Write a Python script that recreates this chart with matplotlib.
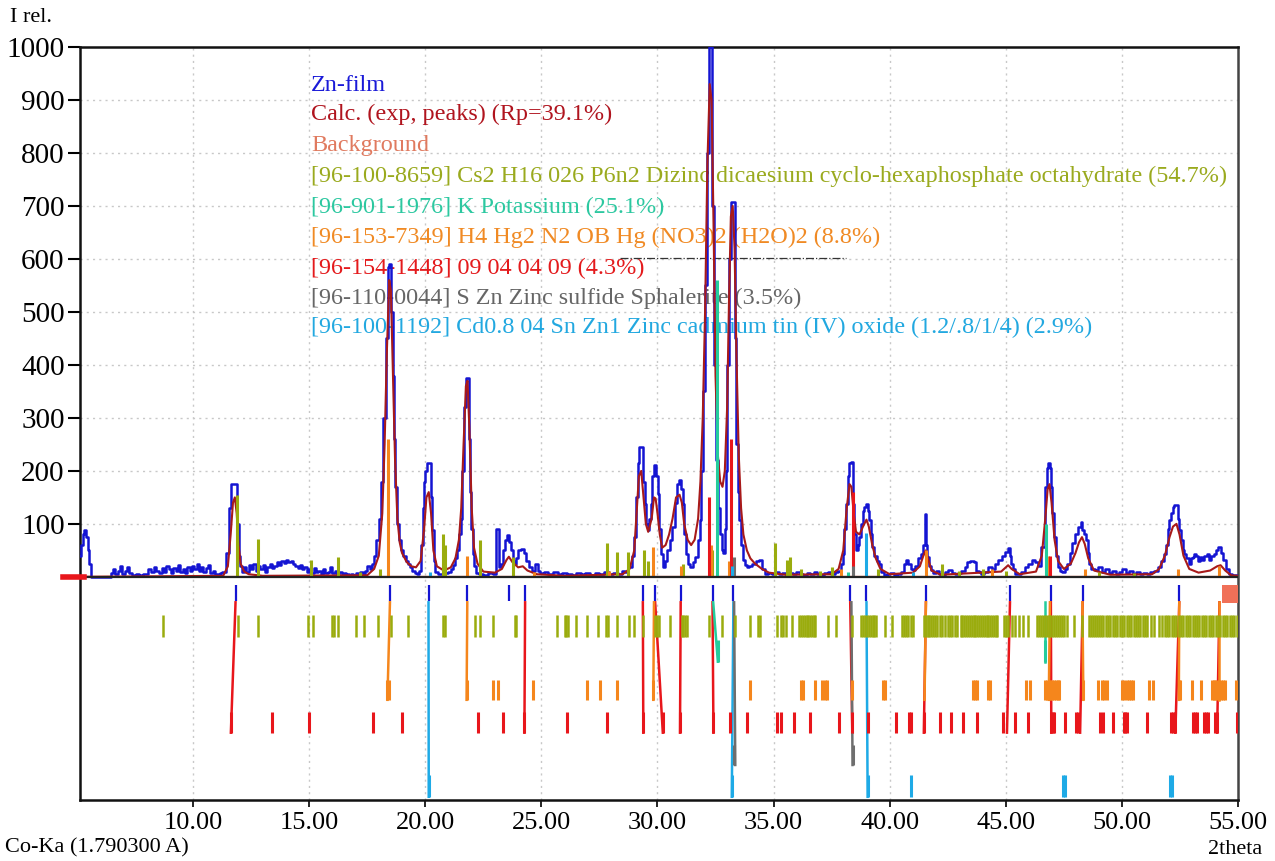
import matplotlib
matplotlib.use("Agg")
import matplotlib.pyplot as plt

plt.rcParams['font.family'] = ['Liberation Serif', 'DejaVu Serif']

# ---------------- data ----------------
# experimental profile (2theta, I rel.)
obs_x = [5.13, 5.21, 5.28, 5.36, 5.45, 5.5, 5.56, 5.61, 6.45,
         6.5, 6.6, 6.7, 6.8, 6.9, 7.0, 7.1, 7.2, 7.3, 7.45, 7.6, 7.75, 7.9, 8.0, 8.15, 8.25, 8.35, 8.5, 8.6, 8.7, 8.8, 8.9,
         9.0, 9.1, 9.2, 9.3, 9.4, 9.5, 9.6, 9.7, 9.8, 9.9, 10.0, 10.1, 10.2, 10.3, 10.4, 10.5, 10.6, 10.7, 10.8, 10.9,
         11.0, 11.1, 11.2, 11.3, 11.36, 11.5, 11.61, 11.69, 11.86, 11.93, 12.0, 12.08, 12.15,
         12.25, 12.35, 12.45, 12.55, 12.65, 12.75, 12.85, 12.95, 13.05, 13.15, 13.25, 13.35, 13.45, 13.55, 13.65, 13.75,
         13.85, 13.95, 14.05, 14.15, 14.25, 14.35, 14.45, 14.55, 14.65, 14.75, 14.85, 14.95, 15.05, 15.15, 15.25, 15.35,
         15.45, 15.55, 15.65, 15.75, 15.85, 15.95, 16.05, 16.15, 16.25, 16.35, 16.45, 16.55, 16.65, 16.75, 16.85, 16.95,
         17.05, 17.15, 17.25, 17.35, 17.45, 17.55, 17.65,
         17.75, 17.85, 17.95, 18.05, 18.15, 18.25, 18.33, 18.42, 18.5, 18.56, 18.62, 18.68, 18.74, 18.82, 18.9, 19.0,
         19.1, 19.2, 19.3, 19.4, 19.5, 19.6, 19.68, 19.75, 19.85,
         19.92, 19.97, 20.05, 20.11, 20.22, 20.28, 20.33, 20.4, 20.47, 20.6, 20.75, 20.9, 21.05, 21.15, 21.25, 21.35,
         21.41, 21.5, 21.55, 21.62, 21.7, 21.77, 21.84, 21.9, 21.95, 22.0, 22.07, 22.15, 22.22, 22.4, 22.6, 22.8, 23.0,
         23.08, 23.14, 23.2, 23.3, 23.4, 23.5, 23.58, 23.65, 23.72, 23.8, 23.87, 23.95, 24.05, 24.2, 24.3, 24.4, 24.51,
         24.65, 24.8, 24.9, 25.0, 25.2, 25.4, 25.6, 25.8, 26.0, 26.2, 26.4, 26.6, 26.8, 27.0, 27.2, 27.4, 27.6, 27.8,
         28.0, 28.2, 28.4, 28.55, 28.68,
         28.82, 28.95, 29.04, 29.12, 29.18, 29.25, 29.36, 29.42, 29.47, 29.55, 29.61, 29.68, 29.75, 29.82, 29.9, 29.97,
         30.04, 30.11, 30.18, 30.26, 30.35, 30.47, 30.58, 30.69, 30.8, 30.9, 30.97, 31.04, 31.12, 31.2, 31.26, 31.35,
         31.48, 31.58, 31.69, 31.78, 31.84, 31.92, 32.0, 32.08, 32.16, 32.24, 32.32, 32.4, 32.48, 32.56, 32.64, 32.72,
         32.8, 32.86, 32.92, 32.98, 33.05, 33.12, 33.2, 33.3, 33.36, 33.43, 33.5, 33.56, 33.63, 33.7, 33.8, 33.9, 34.0,
         34.15, 34.3, 34.45, 34.55, 34.71,
         34.85, 35.0, 35.15, 35.3, 35.45, 35.6, 35.75, 35.9, 36.05, 36.2, 36.35, 36.5, 36.65, 36.8, 36.95, 37.1, 37.25,
         37.4, 37.55, 37.7, 37.86,
         37.95, 38.01, 38.08, 38.15, 38.22, 38.3, 38.37, 38.44, 38.51, 38.58, 38.65, 38.73, 38.8, 38.87, 38.94, 39.01,
         39.08, 39.15, 39.22, 39.29, 39.4, 39.5, 39.58, 39.7, 39.8, 39.95, 40.1, 40.25, 40.4, 40.55, 40.65, 40.73,
         40.85, 40.95, 41.02, 41.15, 41.28, 41.38, 41.5, 41.55, 41.58, 41.66, 41.75, 41.81, 41.95, 42.05, 42.17, 42.3,
         42.45, 42.6, 42.75, 42.88, 43.0, 43.15, 43.3, 43.39, 43.55, 43.67, 43.8, 43.89, 44.0, 44.15, 44.32, 44.45,
         44.6, 44.75, 44.9, 45.04, 45.12, 45.2, 45.25, 45.35, 45.47, 45.6, 45.75, 45.9, 46.05, 46.18, 46.3, 46.45,
         46.62, 46.73, 46.8, 46.86, 46.92, 46.97, 47.05, 47.12, 47.2, 47.26, 47.38, 47.48, 47.58, 47.69, 47.8, 47.91,
         48.05, 48.19, 48.26, 48.34, 48.41, 48.48, 48.56, 48.63, 48.75, 48.91, 49.05, 49.2, 49.35, 49.5, 49.65, 49.8,
         49.95, 50.1, 50.25, 50.4, 50.55, 50.7, 50.85, 51.0, 51.15, 51.3, 51.5, 51.64, 51.75, 51.85, 51.93, 52.0,
         52.07, 52.14, 52.22, 52.3, 52.36, 52.45, 52.5, 52.57, 52.65, 52.72, 52.82, 52.93, 53.0, 53.08, 53.15, 53.22,
         53.3, 53.4, 53.5, 53.6, 53.7, 53.8, 53.9, 54.0, 54.1, 54.2, 54.3, 54.44, 54.55, 54.65, 54.8, 54.94, 55.0]
obs_y = [40, 60, 80, 89, 75, 50, 25, 0, 0,
         8, 14, 6, 12, 20, 5, 12, 18, 8, 4, 5, 3, 6, 5, 14, 10, 18, 12, 8, 16, 10, 20,
         14, 8, 16, 12, 22, 10, 15, 8, 18, 12, 20, 14, 25, 12, 18, 10, 16, 22, 8, 12,
         6, 5, 8, 10, 10, 45, 130, 175, 175, 100, 40, 20, 10,
         18, 10, 22, 15, 25, 12, 20, 14, 22, 10, 18, 24, 16, 20, 28, 22,
         30, 26, 32, 28, 30, 24, 20, 16, 22, 14, 18, 10, 14, 8, 16, 10,
         12, 6, 14, 8, 10, 18, 8, 12, 6, 10, 4, 8, 5, 3, 6, 4,
         8, 5, 10, 6, 12, 20, 15,
         25, 40, 70, 110, 180, 300, 450, 585, 590, 500, 380, 260, 170, 100, 70, 50,
         40, 30, 25, 18, 12, 8, 6, 12, 60,
         130, 180, 200, 214, 214, 150, 88, 30, 9, 6, 5, 8, 10, 15, 22, 35,
         50, 80, 110, 200, 320, 375, 375, 260, 160, 90, 44, 20, 8, 6, 4, 8, 6,
         91, 91, 18, 25, 50, 70, 79, 65, 50, 30, 25, 35, 50, 52, 45, 30, 19,
         12, 25, 12, 8, 10, 6, 10, 5, 8, 6, 4, 8, 5, 7, 4, 8, 5, 10,
         6, 8, 5, 12, 10,
         19, 40, 75, 150, 214, 245, 245, 180, 138, 100, 88, 110, 138, 190, 211, 190,
         157, 90, 44, 19, 30, 50, 70, 94, 140, 176, 182, 165, 138, 80, 44, 25,
         19, 28, 38, 70, 107, 200, 350, 550, 800, 1000, 1000, 700, 400, 220, 130, 80,
         50, 45, 90, 200, 400, 600, 708, 708, 450, 250, 160, 107, 60, 31, 22, 19, 20,
         25, 30, 31, 15, 6,
         8, 5, 10, 6, 8, 4, 7, 5, 9, 6, 4, 8, 5, 9, 6, 4, 7,
         10, 6, 9, 12,
         25, 44, 90, 138, 190, 214, 217, 138, 80, 50, 60, 75, 100, 125, 132, 138,
         125, 107, 80, 57, 40, 30, 25, 10, 3, 5, 8, 4, 6, 10, 25, 31,
         25, 15, 13, 20, 35, 44, 60, 119, 60, 38, 20, 13, 8, 12, 6, 4,
         10, 13, 8, 6, 8, 12, 18, 28, 30, 28, 12, 9, 6, 10, 19, 15,
         25, 31, 40, 47, 55, 40, 25, 15, 6, 5, 10, 19, 25, 31, 28, 20,
         57, 170, 205, 214, 205, 170, 120, 75, 40, 19, 12, 9, 15, 25, 45, 63,
         80, 94, 104, 88, 80, 69, 45, 25, 15, 13, 18, 10, 14, 8, 12, 6,
         10, 15, 8, 12, 6, 9, 5, 8, 6, 10, 12, 19, 30, 44, 60, 90,
         107, 120, 132, 136, 135, 110, 88, 70, 50, 44, 35, 25, 35, 38, 44, 40,
         30, 38, 31, 40, 44, 31, 40, 44, 50, 57, 45, 31, 15, 6, 4, 3, 3]

# calculated profile
calc_x = [5.13, 11.3, 11.5, 11.62, 11.72, 11.8, 11.88, 11.96, 12.05, 12.2, 12.4, 13.0, 17.5, 17.8, 18.0, 18.15,
          18.25, 18.35, 18.45, 18.52, 18.6, 18.7, 18.8, 18.9, 19.0, 19.2, 19.4, 19.6, 19.8, 19.95, 20.05, 20.15,
          20.25, 20.35, 20.5, 20.8, 21.1, 21.3, 21.45, 21.55, 21.65, 21.75, 21.82, 21.9, 22.0, 22.1, 22.25, 22.5,
          23.0, 23.3, 23.5, 23.6, 23.75, 24.0, 24.2, 24.4, 24.8, 26.0, 28.5, 28.8, 29.0, 29.1, 29.2, 29.3, 29.4,
          29.5, 29.6, 29.75, 29.85, 29.92, 30.0, 30.1, 30.2, 30.35, 30.5, 30.65, 30.8, 30.95, 31.05, 31.15, 31.3,
          31.45, 31.6, 31.75, 31.85, 31.95, 32.05, 32.15, 32.25, 32.33, 32.42, 32.5, 32.6, 32.7, 32.8, 32.9, 33.0,
          33.08, 33.16, 33.24, 33.32, 33.4, 33.5, 33.6, 33.7, 33.85, 34.0, 34.2, 34.5, 34.8, 35.5, 37.5, 37.8, 38.0,
          38.15, 38.27, 38.35, 38.45, 38.55, 38.7, 38.85, 39.0, 39.1, 39.25, 39.4, 39.6, 40.0, 41.0, 41.3, 41.45,
          41.55, 41.65, 41.8, 42.2, 44.8, 45.1, 45.25, 45.6, 46.3, 46.55, 46.7, 46.8, 46.88, 46.97, 47.1, 47.25,
          47.5, 47.8, 48.0, 48.15, 48.28, 48.4, 48.55, 48.8, 49.5, 51.3, 51.6, 51.85, 52.05, 52.2, 52.35, 52.48,
          52.65, 52.9, 53.3, 53.8, 54.1, 54.25, 54.45, 54.7, 55.0]
calc_y = [0, 2, 20, 80, 140, 150, 120, 60, 25, 10, 5, 2, 3, 15, 40, 120,
          250, 430, 560, 540, 400, 220, 110, 65, 45, 28, 20, 18, 30, 90, 150, 160,
          120, 50, 20, 12, 18, 35, 70, 130, 250, 360, 370, 280, 130, 55, 25, 10,
          8, 15, 32, 38, 28, 18, 20, 12, 5, 2, 5, 15, 50, 120, 190, 200, 150,
          100, 85, 110, 150, 148, 120, 80, 55, 60, 80, 110, 150, 155, 140, 100, 70,
          60, 70, 110, 180, 300, 500, 780, 930, 900, 650, 380, 230, 180, 170, 200, 320,
          520, 680, 700, 620, 420, 230, 130, 80, 50, 35, 25, 15, 8, 4, 5, 15, 50,
          130, 175, 170, 120, 85, 80, 95, 108, 95, 60, 35, 15, 5, 8, 20, 40,
          50, 35, 12, 4, 10, 22, 15, 5, 10, 40, 110, 165, 175, 140, 70, 30,
          15, 25, 45, 65, 75, 62, 35, 12, 4, 5, 15, 40, 75, 95, 100, 80,
          40, 15, 8, 12, 20, 22, 12, 3, 2]

# background
bg_x = [5.13, 20.0, 35.0, 55.0]
bg_y = [2, 2, 2, 2]

# phase sticks in the upper panel (position, intensity)
olive_sx = [11.9, 12.8, 15.1, 16.25, 17.2, 18.05, 20.76, 20.85, 22.36, 23.8, 27.82, 28.25, 28.75, 29.4, 29.6,
            31.12, 32.34, 35.06, 35.57, 35.7, 36.2, 37.0, 37.5, 39.5, 42.24, 43.0, 44.0, 45.0, 49.0, 50.5]
olive_sy = [155, 72, 31, 38, 10, 15, 80, 60, 69, 38, 63, 47, 47, 50, 30,
            25, 50, 63, 31, 38, 15, 12, 18, 15, 25, 12, 15, 12, 10, 8]
orange_sx = [18.4, 21.8, 24.7, 27.9, 29.8, 31.0, 32.3, 33.1, 37.9, 41.55, 44.4, 46.8, 48.4, 52.4, 54.2]
orange_sy = [260, 40, 10, 12, 57, 20, 60, 30, 15, 50, 15, 40, 15, 15, 20]
teal_sx = [32.55, 46.75, 38.2]
teal_sy = [560, 100, 10]
red_sx = [33.15, 32.2, 38.4, 46.9]
red_sy = [260, 150, 160, 40]
gray_sx = [33.3, 38.4]
gray_sy = [38, 20]
cyan_sx = [39.0, 33.2, 20.2, 41.0]
cyan_sy = [82, 20, 10, 10]

# peak markers (observed peaks)
peak_marks = [11.83, 18.5, 20.14, 21.81, 23.62, 24.3, 29.37, 29.9, 31.0, 32.37, 33.27, 38.3, 39.0,
              41.56, 45.18, 46.94, 48.31, 52.47]

# reference-pattern tick positions in the lower panel
olive_ticks = [8.72, 11.95, 12.81, 14.96, 15.18, 15.97, 16.05, 16.26, 17.0, 17.36, 17.98, 18.51, 19.24, 20.78,
               20.86, 22.14, 22.36, 22.9, 23.86, 23.92, 25.66, 26.0, 26.08, 26.16, 26.49, 26.98, 27.45, 27.78,
               27.86, 28.27, 28.79, 28.99, 29.39, 29.9, 29.98, 30.06, 30.54, 31.04, 31.12, 31.2, 31.28, 32.23,
               32.77, 33.34, 34.0, 34.35, 34.41, 35.15, 35.3, 35.42, 35.55, 35.78, 36.1, 36.18, 36.26, 36.34,
               36.42, 36.5, 36.58, 36.66, 36.74, 36.8, 37.36, 37.67, 38.39, 38.78, 38.86, 38.94, 39.02, 39.1,
               39.18, 39.26, 39.34, 39.41, 39.81, 40.12, 40.52, 40.62, 40.72, 40.8, 40.9, 40.99, 41.47, 41.55,
               41.63, 41.71, 41.79, 41.87, 41.95, 42.05, 42.15, 42.25, 42.4, 42.5, 42.6, 42.7, 42.8, 42.89,
               43.05, 43.13, 43.21, 43.29, 43.37, 43.45, 43.53, 43.61, 43.69, 43.77, 43.85, 43.93, 44.01, 44.09,
               44.17, 44.25, 44.33, 44.41, 44.49, 44.57, 44.63, 44.94, 45.02, 45.1, 45.25, 45.4, 45.55, 45.73,
               45.97, 46.36, 46.44, 46.52, 46.6, 46.68, 46.76, 46.84, 46.92, 47.0, 47.08, 47.16, 47.24, 47.32,
               47.4, 47.5, 47.63, 47.94, 48.26, 48.57, 48.66, 48.75, 48.84, 48.93, 49.02, 49.11, 49.2, 49.3,
               49.4, 49.5, 49.6, 49.7, 49.8, 49.9, 50.0, 50.1, 50.2, 50.3, 50.4, 50.5, 50.6, 50.7, 50.8, 50.9,
               51.0, 51.1, 51.25, 51.4, 51.58, 51.74, 51.84, 51.94, 52.04, 52.14, 52.24, 52.34, 52.44, 52.54,
               52.64, 52.74, 52.84, 52.94, 53.04, 53.14, 53.24, 53.34, 53.44, 53.54, 53.64, 53.74, 53.84, 53.94,
               54.04, 54.14, 54.24, 54.34, 54.44, 54.54, 54.64, 54.74, 54.84, 54.97]
teal_ticks = [32.6, 46.7]
orange_ticks = [18.37, 18.42, 21.78, 22.93, 23.15, 24.66, 26.95, 27.53, 28.27, 29.82, 33.99, 36.17, 36.25,
                36.8, 37.1, 37.2, 37.3, 38.39, 39.73, 39.8, 43.6, 43.68, 43.76, 44.23, 44.34, 45.89, 46.05,
                46.68, 46.76, 46.84, 46.92, 47.0, 47.08, 47.16, 47.24, 47.31, 48.34, 48.97, 49.13, 49.25,
                49.37, 50.0, 50.1, 50.2, 50.3, 50.4, 50.47, 51.18, 51.34, 52.45, 52.52, 53.0, 53.4, 53.87,
                53.95, 54.03, 54.11, 54.19, 54.27, 54.35, 54.42, 54.9]
red_ticks = [11.63, 13.41, 15.0, 17.77, 19.02, 22.29, 23.33, 24.27, 26.09, 27.81, 29.39, 30.23, 30.97,
             32.41, 33.12, 33.87, 35.15, 35.3, 35.86, 36.57, 37.8, 38.39, 39.07, 40.28, 40.83, 40.9, 41.47,
             42.15, 42.65, 43.17, 43.76, 44.86, 45.38, 45.94, 46.96, 47.02, 47.08, 47.55, 48.02, 48.1,
             49.05, 49.2, 49.6, 50.07, 50.14, 50.2, 51.1, 52.1, 52.2, 52.3, 53.08, 53.16, 53.24, 53.55,
             53.63, 53.71, 54.03, 54.1, 54.97]
gray_ticks = [33.3, 38.4]
cyan_ticks = [20.15, 33.2, 39.05, 40.9, 47.45, 47.55, 52.05, 52.15]

# drop lines linking observed peaks with reference lines (top x, bottom x, phase)
drop_top = [11.83, 18.48, 20.14, 21.81, 24.3, 29.37, 29.9, 29.85, 31.0, 32.37, 32.4, 33.27, 33.3,
            38.3, 38.35, 39.0, 41.56, 41.56, 45.18, 46.94, 46.9, 46.7, 48.31, 48.3, 52.47, 52.47, 54.2, 54.2]
drop_bot = [11.63, 18.37, 20.15, 21.78, 24.27, 29.39, 30.23, 29.82, 30.97, 32.41, 32.6, 33.2, 33.35,
            38.39, 38.4, 39.05, 41.47, 41.5, 45.05, 46.96, 46.85, 46.7, 48.2, 48.34, 52.3, 52.45, 54.1, 54.2]
drop_phase = ['red', 'orange', 'cyan', 'orange', 'red', 'red', 'red', 'orange', 'red', 'red', 'teal', 'cyan',
              'gray', 'red', 'gray', 'cyan', 'red', 'orange', 'red', 'red', 'orange', 'teal', 'red', 'orange',
              'red', 'orange', 'red', 'orange']

legend_labels = ["Zn-film",
                 "Calc. (exp, peaks) (Rp=39.1%)",
                 "Background",
                 "[96-100-8659] Cs2 H16 026 P6n2 Dizinc dicaesium cyclo-hexaphosphate octahydrate (54.7%)",
                 "[96-901-1976] K Potassium (25.1%)",
                 "[96-153-7349] H4 Hg2 N2 OB Hg (NO3)2 (H2O)2 (8.8%)",
                 "[96-154-1448] 09 04 04 09 (4.3%)",
                 "[96-110-0044] S Zn Zinc sulfide Sphalerite (3.5%)",
                 "[96-100-1192] Cd0.8 04 Sn Zn1 Zinc cadmium tin (IV) oxide (1.2/.8/1/4) (2.9%)"]

x_ticks = [10, 15, 20, 25, 30, 35, 40, 45, 50, 55]
y_ticks = [100, 200, 300, 400, 500, 600, 700, 800, 900, 1000]

# ---------------- styling ----------------
C = {'blue': '#1414D2', 'calc': '#A81A1A', 'bg': '#E8785A', 'olive': '#9AAC0E', 'teal': '#24CC9C',
     'orange': '#F5861C', 'red': '#E8161B', 'gray': '#6E6E6E', 'cyan': '#1EAAE6'}
text_colors = ['#1A1AD8', '#B0141E', '#E07A5F', '#9AAA1E', '#2CC8A0', '#F08A24', '#E41A1C', '#666666', '#22A8E0']

rows = {'olive': (-72, -113), 'teal': (-120, -160), 'orange': (-194, -232), 'red': (-255, -294),
        'gray': (-317, -355), 'cyan': (-374, -415)}

fig = plt.figure(figsize=(12.75, 8.61), dpi=100)
ax = fig.add_axes([0.0627, 0.0709, 0.9083, 0.8745])
ax.set_xlim(5.13, 55.0)
ax.set_ylim(-421, 1000)

# grid
for xv in x_ticks[:-1]:
    ax.axvline(xv, color='#C8C8C8', lw=1.0, ls=(0, (1.5, 3)), zorder=0)
for yv in y_ticks[:-1]:
    ax.axhline(yv, color='#C8C8C8', lw=1.0, ls=(0, (1.5, 3)), zorder=0)

# legend-like text
leg_y = [928, 872, 815, 755, 698, 640, 583, 526, 470]
for lab, col, yy in zip(legend_labels, text_colors, leg_y):
    ax.text(15.08, yy, lab, color=col, fontsize=17.4, va='center', ha='left', zorder=1)

# faint dash-dot line
ax.plot([28.4, 38.1], [602, 602], color='#333333', lw=0.9, ls='-.', zorder=1)

# profiles
ax.plot(obs_x, obs_y, color=C['blue'], lw=1.8, drawstyle='steps-mid', zorder=3)
ax.plot(calc_x, calc_y, color=C['calc'], lw=1.5, zorder=4)
ax.plot(bg_x, bg_y, color=C['bg'], lw=1.0, zorder=2)

# sticks in the upper panel
for xs, ys, key in [(olive_sx, olive_sy, 'olive'), (orange_sx, orange_sy, 'orange'),
                    (teal_sx, teal_sy, 'teal'), (red_sx, red_sy, 'red'),
                    (gray_sx, gray_sy, 'gray'), (cyan_sx, cyan_sy, 'cyan')]:
    ax.vlines(xs, 0, ys, color=C[key], lw=2.2, zorder=5)

# zero line
ax.axhline(0, color='#222222', lw=1.6, zorder=6)
ax.plot([4.4, 5.3], [0, 0], color='#E8161B', lw=4, clip_on=False, zorder=7)

# lower panel: peak markers
ax.vlines(peak_marks, -45, -15, color=C['blue'], lw=1.6, zorder=5)
ax.fill_between([54.3, 55.0], -49, -15, color='#F07058', lw=0, zorder=5)

# drop lines
for xt, xb, ph in zip(drop_top, drop_bot, drop_phase):
    ax.plot([xt, xb], [-48, rows[ph][1]], color=C[ph], lw=1.8, zorder=4)

# reference tick rows
for ticks, key in [(olive_ticks, 'olive'), (teal_ticks, 'teal'), (orange_ticks, 'orange'),
                   (red_ticks, 'red'), (gray_ticks, 'gray'), (cyan_ticks, 'cyan')]:
    lo, hi = rows[key]
    ax.vlines(ticks, hi, lo, color=C[key], lw=1.8 if key == 'olive' else 2.2, zorder=5)

# axes
for s in ['left', 'bottom', 'top']:
    ax.spines[s].set_color('#111111')
    ax.spines[s].set_linewidth(1.8)
ax.spines['right'].set_color('#444444')
ax.spines['right'].set_linewidth(1.8)

ax.set_xticks(x_ticks)
ax.set_xticklabels(['%.2f' % v for v in x_ticks], fontsize=19)
ax.set_yticks(y_ticks)
ax.set_yticklabels([str(v) for v in y_ticks], fontsize=21)
ax.tick_params(axis='y', direction='out', length=9, width=1.5, pad=2)
ax.tick_params(axis='x', direction='out', length=5, width=1.2, pad=4)

fig.text(10 / 1275, 1 - 18 / 861, "I rel.", fontsize=16, va='center', ha='left')
fig.text(5 / 1275, 1 - 848 / 861, "Co-Ka (1.790300 A)", fontsize=16, va='center', ha='left')
fig.text(1262 / 1275, 1 - 850 / 861, "2theta", fontsize=16, va='center', ha='right')

fig.savefig("out.png", dpi=100)
